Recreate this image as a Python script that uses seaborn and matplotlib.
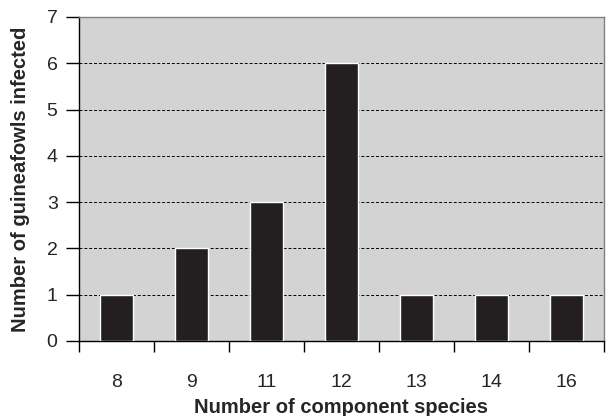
import numpy as np
import pandas as pd
import seaborn as sns
import matplotlib.pyplot as plt
from matplotlib.ticker import FixedLocator

species = ["8", "9", "11", "12", "13", "14", "16"]
infected = [1, 2, 3, 6, 1, 1, 1]

df = pd.DataFrame({"species": species, "infected": infected})

sns.set_style("white")
plt.rcParams['font.family'] = ['Liberation Sans', 'DejaVu Sans']

fig = plt.figure(figsize=(6.09, 4.16), dpi=100)
ax = fig.add_axes([0.1297, 0.1803, 0.862, 0.779])
ax.set_facecolor("#d3d3d3")

sns.barplot(data=df, x="species", y="infected", order=species,
            color="#231f20", width=0.43, saturation=1, ax=ax, zorder=3)

ax.set_xlim(-0.5, len(species) - 0.5)
ax.set_ylim(0, 7)
ax.set_yticks(range(0, 8))

# dashed grid, skip the ones lying on the frame
ax.yaxis.grid(True, linestyle=(0, (3, 2)), color="black", linewidth=0.7, zorder=1)
ax.set_axisbelow(True)
gl = ax.get_ygridlines()
gl[0].set_visible(False)
gl[-1].set_visible(False)

# ticks between categories
ax.xaxis.set_minor_locator(FixedLocator(np.arange(-0.5, len(species), 1.0)))
ax.tick_params(axis="x", which="major", length=0, pad=24, labelsize=14)
ax.tick_params(axis="x", which="minor", length=8, width=1, direction="out", color="black", bottom=True)
ax.tick_params(axis="y", which="major", length=9.4, width=1, direction="out", color="black", left=True, pad=6, labelsize=14)

for s in ["left", "bottom"]:
    ax.spines[s].set_color("black")
    ax.spines[s].set_linewidth(1)
for s in ["top", "right"]:
    ax.spines[s].set_color("#808080")
    ax.spines[s].set_linewidth(1)

ax.set_xlabel("Number of component species", fontsize=14.5, fontweight="bold", labelpad=5)
ax.set_ylabel("Number of guineafowls infected", fontsize=14.5, fontweight="bold", labelpad=12)

fig.savefig("out.png", dpi=100)
